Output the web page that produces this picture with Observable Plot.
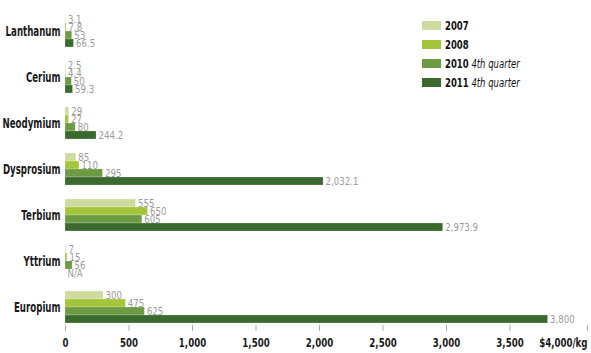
<!DOCTYPE html>
<html>
<head>
<meta charset="utf-8">
<script src="https://cdn.jsdelivr.net/npm/d3@7"></script>
<script src="https://cdn.jsdelivr.net/npm/@observablehq/plot@0.6"></script>
<style>
  html, body { margin: 0; padding: 0; background: #fff; }
  #wrap { position: relative; width: 591px; height: 353px; font-family: "DejaVu Sans", sans-serif; }
  #legend { position: absolute; left: 422px; top: 16px; }
  .li { display: flex; align-items: center; height: 19px; font-size: 12.5px; color: #111; white-space: nowrap; }
  .sw { width: 19px; height: 9px; margin-right: 4px; flex: none; }
  .lt { display: inline-block; transform: scaleX(0.68); transform-origin: left center; }
  .li b { font-weight: bold; }
  .li i { font-weight: normal; margin-left: 4px; }
</style>
</head>
<body>
<div id="wrap"><div id="chart"></div><div id="legend"></div></div>
<script>
const elements = ["Lanthanum", "Cerium", "Neodymium", "Dysprosium", "Terbium", "Yttrium", "Europium"];
const years = ["2007", "2008", "2010", "2011"];
const yearNotes = ["", "", "4th quarter", "4th quarter"];
const colors = ["#cddc9e", "#a3c53c", "#6c9b43", "#3b6a2e"];
const v2007 = [3.1, 2.5, 29, 85, 555, 7, 300];
const v2008 = [7.8, 4.4, 27, 110, 650, 15, 475];
const v2010 = [53, 50, 80, 295, 605, 56, 625];
const v2011 = [66.5, 59.3, 244.2, 2032.1, 2973.9, null, 3800];
const xTicks = [0, 500, 1000, 1500, 2000, 2500, 3000, 3500, 4000];
const lastTickLabel = "$4,000/kg";
const naLabel = "N/A";

const series = [v2007, v2008, v2010, v2011];
const data = [];
elements.forEach((el, i) => {
  years.forEach((yr, j) => {
    data.push({element: el, year: yr, value: series[j][i]});
  });
});

const fmt = d3.format(",");
const font = '"DejaVu Sans", sans-serif';

const chart = Plot.plot({
  width: 591,
  height: 353,
  marginLeft: 65,
  marginRight: 18,
  marginTop: 8,
  marginBottom: 23,
  style: {fontFamily: font, background: "white"},
  x: {domain: [0, 4000]},
  y: {domain: years, axis: null, padding: 0.06},
  fy: {domain: elements, paddingInner: 0.21, paddingOuter: 0.09, label: null, axis: null},
  color: {domain: years, range: colors},
  marks: [
    Plot.barX(data.filter(d => d.value != null), {
      x: "value", y: "year", fy: "element", fill: "year",
      stroke: "#ffffff", strokeOpacity: 0.35, strokeWidth: 0.6
    }),
    Plot.text(data, {
      x: d => d.value ?? 0, y: "year", fy: "element",
      text: d => d.value == null ? naLabel : fmt(d.value),
      textAnchor: "start", dx: 2, dy: 0.5, fill: "#9a9a9a", fontSize: 10.5,
      className: "vlab"
    }),
    Plot.axisFy({
      anchor: "left", label: null, tickSize: 0, tickPadding: 5, fontSize: 13.5, fontWeight: "bold", fill: "#1a1a1a",
      className: "flab"
    }),
    Plot.axisX({
      ticks: xTicks.slice(0, -1), tickFormat: fmt, label: null, tickSize: 6, tickPadding: 7,
      fontSize: 11.5, fontWeight: "bold", stroke: "#aaa", fill: "#1a1a1a", className: "xlab"
    }),
    Plot.axisX({
      ticks: xTicks.slice(-1), tickFormat: () => lastTickLabel, label: null, tickSize: 6, tickPadding: 7,
      fontSize: 11.5, fontWeight: "bold", stroke: "#aaa", fill: "#1a1a1a", textAnchor: "end", dx: 14, className: "xlab"
    })
  ]
});
document.getElementById("chart").appendChild(chart);

// condense glyphs to mimic the narrow typeface of the original
function condense(selector, factor) {
  chart.querySelectorAll(selector).forEach(t => {
    if (!t.textContent) return;
    const len = t.getComputedTextLength();
    if (len > 0) {
      t.setAttribute("textLength", (len * factor).toFixed(2));
      t.setAttribute("lengthAdjust", "spacingAndGlyphs");
    }
  });
}
condense(".flab text", 0.64);
condense(".xlab text", 0.75);
condense(".vlab text", 0.82);

const legend = document.getElementById("legend");
years.forEach((yr, j) => {
  const row = document.createElement("div");
  row.className = "li";
  row.innerHTML = `<span class="sw" style="background:${colors[j]}"></span><span class="lt"><b>${yr}</b>` + (yearNotes[j] ? `<i>${yearNotes[j]}</i>` : "") + `</span>`;
  legend.appendChild(row);
});
</script>
</body>
</html>
